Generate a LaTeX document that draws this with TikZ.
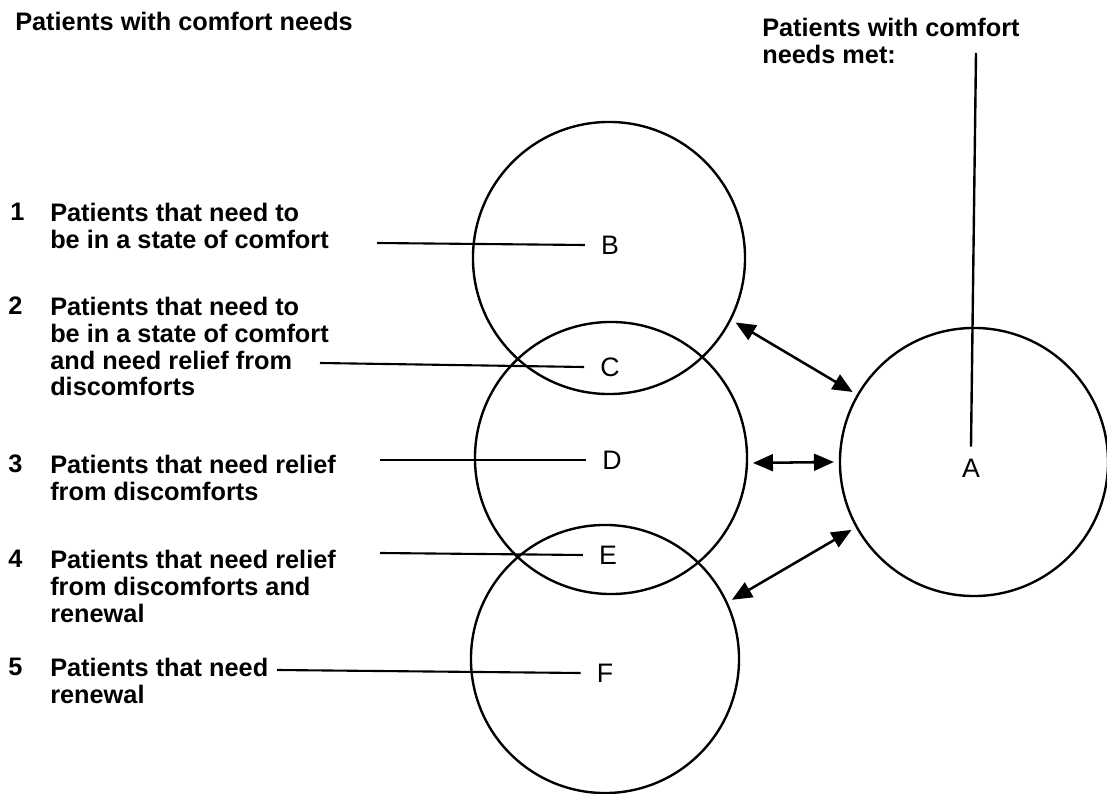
\documentclass[tikz,border=0pt]{standalone}
\usepackage{fontspec}
\setmainfont{Liberation Sans}
\usetikzlibrary{arrows.meta,positioning}
\tikzset{
  txt/.style={anchor=north west, inner sep=0pt, align=left, font=\fontsize{18}{19}\selectfont\bfseries},
  lbl/.style={inner xsep=0.4cm, inner ysep=0.3cm, font=\fontsize{19}{21}\selectfont},
  ring/.style={circle, draw, line width=1.7pt, minimum size=6.8cm, inner sep=0pt, outer sep=0.15cm},
  link/.style={line width=1.5pt},
  dbl/.style={line width=1.8pt, {Triangle[length=0.5cm,width=0.42cm]}-{Triangle[length=0.5cm,width=0.42cm]}}
}
\begin{document}
\begin{tikzpicture}[x=0.025cm,y=-0.025cm]
    \useasboundingbox (0,0) rectangle (1107,794);

    % Circles
    \node[ring] (cB) at (609,258) {};
    \node[ring] (cD) at (611,458) {};
    \node[ring, minimum size=6.7cm] (cF) at (605,659) {};
    \node[ring, minimum size=6.7cm] (cA) at (974,462) {};

    % Letters
    \node[lbl] (B) at (610,245) {B};
    \node[lbl] (C) at (610,367) {C};
    \node[lbl] (D) at (612,460) {D};
    \node[lbl] (E) at (608,555) {E};
    \node[lbl] (F) at (605,673) {F};
    \node[lbl] (A) at (971,468) {A};

    % Titles
    \node[txt] (title) at (15,12) {Patients with comfort needs};
    \node[txt] (titleA) at (762,18) {Patients with comfort\\needs met:};

    % Numbered groups
    \node[txt] (n1) at (10,203) {1};
    \node[txt] (t1) at (50,203) {Patients that need to\\be in a state of comfort};
    \node[txt] (n2) at (8,297) {2};
    \node[txt] (t2) at (50,297) {Patients that need to\\be in a state of comfort\\and need relief from\\discomforts};
    \node[txt] (n3) at (8,455) {3};
    \node[txt] (t3) at (50,455) {Patients that need relief\\from discomforts};
    \node[txt] (n4) at (8,550) {4};
    \node[txt] (t4) at (50,550) {Patients that need relief\\from discomforts and\\renewal};
    \node[txt] (n5) at (8,658) {5};
    \node[txt] (t5) at (50,658) {Patients that need\\renewal};

    % Leader lines
    \coordinate (s1) at (377,243);
    \coordinate (s2) at (320,363);
    \coordinate (s3) at (380,460);
    \coordinate (s4) at (380,553);
    \coordinate (s5) at (277,670);
    \draw[link] (s1) -- (B.west);
    \draw[link] (s2) -- (C.west);
    \draw[link] (s3) -- (D.west);
    \draw[link] (s4) -- (E.west);
    \draw[link] (s5) -- (F.west);

    \coordinate (sA) at (976,53);
    \draw[line width=1.7pt] (sA) -- (A.north);

    % Two-way arrows
    \draw[dbl] (cB.-27) -- (cA.150);
    \draw[dbl] (cD.-2) -- (cA.180);
    \draw[dbl] (cA.-151) -- (cF.25);
\end{tikzpicture}
\end{document}
